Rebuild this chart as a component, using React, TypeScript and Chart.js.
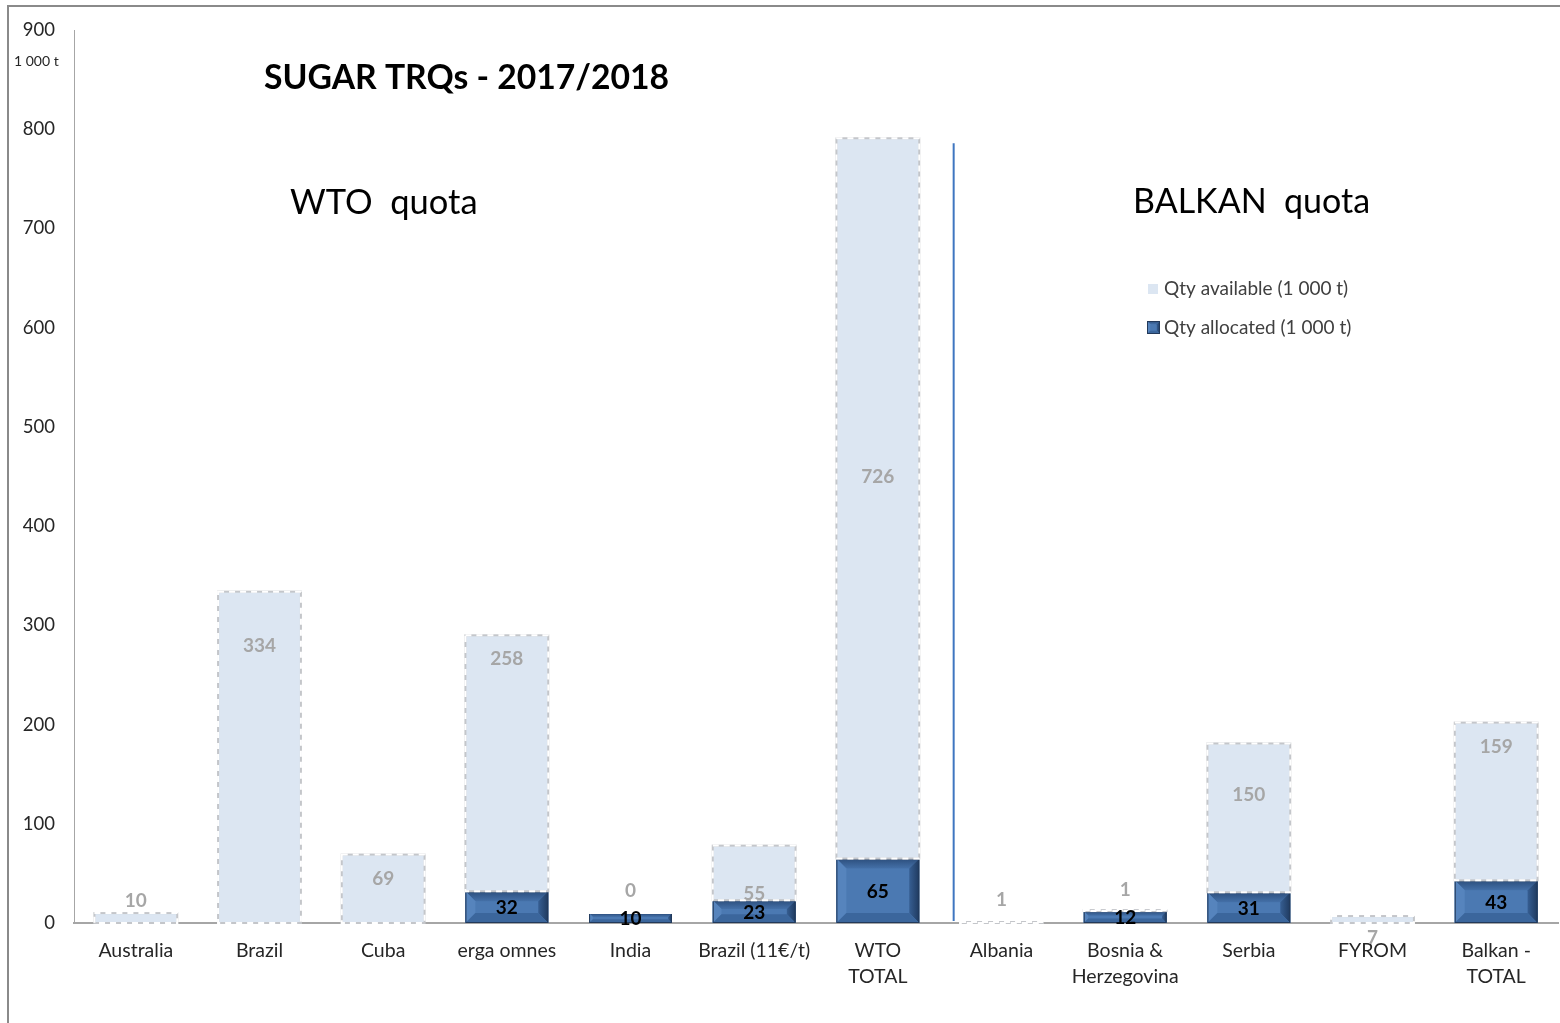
import { useEffect, useRef } from 'react';
import { Chart, registerables } from 'chart.js';

Chart.register(...registerables);

const categories: string[][] = [
  ['Australia'], ['Brazil'], ['Cuba'], ['erga omnes'], ['India'], ['Brazil (11€/t)'],
  ['WTO', 'TOTAL'], ['Albania'], ['Bosnia &', 'Herzegovina'], ['Serbia'], ['FYROM'], ['Balkan -', 'TOTAL'],
];
const allocated = [0, 0, 0, 32, 10, 23, 65, 0, 12, 31, 0, 43];
const available = [10, 334, 69, 258, 0, 55, 726, 1, 1, 150, 7, 159];
const seriesNames = ['Qty allocated (1 000 t)', 'Qty available (1 000 t)'];
const yMax = 900;
const yStep = 100;
// vertical pixel shift of each "available" value label from its segment centre
const availLabelDy = [-17, -111, -10, -104, -22, 21, -22, -23, -21, -23, 18, -55];

const FONT = 'Lato, "Open Sans", "DejaVu Sans", sans-serif';
const LIGHT = '#DCE6F2';
const DARK = '#4B79B2';

function drawBevel(ctx: CanvasRenderingContext2D, l: number, t: number, r: number, bt: number) {
  const h = bt - t;
  const w = r - l;
  if (h <= 0.5) return;
  const b = Math.max(1, Math.min(10, h / 2.6, w / 4));
  const poly = (pts: number[][], c: string | CanvasGradient) => {
    ctx.beginPath();
    ctx.moveTo(pts[0][0], pts[0][1]);
    for (let k = 1; k < pts.length; k++) ctx.lineTo(pts[k][0], pts[k][1]);
    ctx.closePath();
    ctx.fillStyle = c;
    ctx.fill();
  };
  poly([[l, t], [r, t], [r, bt], [l, bt]], DARK);
  const gTop = ctx.createLinearGradient(0, t, 0, t + b);
  gTop.addColorStop(0, '#2C4E7C');
  gTop.addColorStop(1, '#4470A8');
  poly([[l, t], [r, t], [r - b, t + b], [l + b, t + b]], gTop);
  poly([[l, t], [l + b, t + b], [l + b, bt - b], [l, bt]], '#5684BD');
  const gRight = ctx.createLinearGradient(r - b, 0, r, 0);
  gRight.addColorStop(0, '#365E92');
  gRight.addColorStop(1, '#1F3A5F');
  poly([[r, t], [r, bt], [r - b, bt - b], [r - b, t + b]], gRight);
  poly([[l, bt], [r, bt], [r - b, bt - b], [l + b, bt - b]], '#3B669C');
  ctx.strokeStyle = '#22395A';
  ctx.lineWidth = 1;
  ctx.strokeRect(l + 0.5, t + 0.5, w - 1, h - 1);
}

const decorPlugin = {
  id: 'decor',
  beforeDraw(chart: any) {
    const ctx = chart.ctx as CanvasRenderingContext2D;
    ctx.save();
    ctx.fillStyle = '#ffffff';
    ctx.fillRect(0, 0, chart.width, chart.height);
    ctx.fillStyle = '#8a8a8a';
    ctx.fillRect(8, 5, chart.width - 8, 2);
    ctx.fillRect(7, 5, 2, chart.height - 5);
    ctx.restore();
  },
  afterDatasetsDraw(chart: any) {
    const ctx = chart.ctx as CanvasRenderingContext2D;
    const metaA = chart.getDatasetMeta(0);
    const metaV = chart.getDatasetMeta(1);
    ctx.save();
    metaA.data.forEach((el: any, i: number) => {
      if (!allocated[i]) return;
      const p = el.getProps(['x', 'y', 'base', 'width'], true);
      drawBevel(ctx, p.x - p.width / 2, Math.min(p.y, p.base), p.x + p.width / 2, Math.max(p.y, p.base));
    });
    metaV.data.forEach((el: any) => {
      const p = el.getProps(['x', 'y', 'base', 'width'], true);
      const l = p.x - p.width / 2;
      const t = Math.min(p.y, p.base);
      const h = Math.abs(p.base - p.y);
      ctx.lineWidth = 2;
      ctx.setLineDash([]);
      ctx.strokeStyle = '#C4C6CA';
      ctx.strokeRect(l, t, p.width, h);
      ctx.setLineDash([6, 5]);
      ctx.strokeStyle = '#ffffff';
      ctx.strokeRect(l, t, p.width, h);
    });
    ctx.setLineDash([]);

    // value labels
    ctx.font = `bold 19px ${FONT}`;
    ctx.textAlign = 'center';
    ctx.textBaseline = 'middle';
    metaV.data.forEach((el: any, i: number) => {
      const p = el.getProps(['x', 'y', 'base'], true);
      ctx.fillStyle = '#A6A6A6';
      ctx.fillText(String(available[i]), p.x, (p.y + p.base) / 2 + availLabelDy[i]);
    });
    metaA.data.forEach((el: any, i: number) => {
      if (!allocated[i]) return;
      const p = el.getProps(['x', 'y', 'base'], true);
      ctx.fillStyle = '#000000';
      ctx.fillText(String(allocated[i]), p.x, (p.y + p.base) / 2 + 1);
    });

    // separator between WTO and BALKAN groups
    const xs = chart.scales.x;
    const ys = chart.scales.y;
    const sepX = (xs.getPixelForValue(6) + xs.getPixelForValue(7)) / 2 + 14;
    ctx.strokeStyle = '#3F76C0';
    ctx.lineWidth = 2;
    ctx.beginPath();
    ctx.moveTo(sepX, ys.getPixelForValue(786));
    ctx.lineTo(sepX, ys.getPixelForValue(2));
    ctx.stroke();
    ctx.restore();
  },
  afterDraw(chart: any) {
    const ctx = chart.ctx as CanvasRenderingContext2D;
    ctx.save();
    ctx.textBaseline = 'middle';
    ctx.textAlign = 'left';
    ctx.fillStyle = '#262626';
    ctx.font = `14px ${FONT}`;
    ctx.fillText('1 000 t', 14, 61);

    ctx.fillStyle = '#000000';
    ctx.font = `bold 33.7px ${FONT}`;
    ctx.fillText('SUGAR TRQs - 2017/2018', 264, 78);

    ctx.font = `34.5px ${FONT}`;
    ctx.fillText('WTO  quota', 290, 203);
    ctx.font = `34px ${FONT}`;
    ctx.fillText('BALKAN  quota', 1133, 202);

    // legend
    ctx.fillStyle = LIGHT;
    ctx.fillRect(1148, 284, 10, 10);
    drawBevel(ctx, 1147, 321, 1160, 334);
    ctx.fillStyle = '#404040';
    ctx.font = `19px ${FONT}`;
    ctx.fillText(seriesNames[1], 1164, 289);
    ctx.fillText(seriesNames[0], 1164, 328);
    ctx.restore();
  },
};

export default function App() {
  const ref = useRef<HTMLCanvasElement | null>(null);
  useEffect(() => {
    if (!ref.current) return;
    const chart = new Chart(ref.current, {
      type: 'bar',
      data: {
        labels: categories as any,
        datasets: [
          {
            label: seriesNames[0],
            data: allocated,
            backgroundColor: DARK,
            borderWidth: 0,
            stack: 's',
            barPercentage: 0.67,
            categoryPercentage: 1,
          },
          {
            label: seriesNames[1],
            data: available,
            backgroundColor: LIGHT,
            borderWidth: 0,
            stack: 's',
            barPercentage: 0.67,
            categoryPercentage: 1,
          },
        ],
      },
      options: {
        responsive: false,
        animation: false,
        layout: { padding: { top: 30, right: 2, left: 0, bottom: 0 } },
        plugins: { legend: { display: false }, tooltip: { enabled: false }, title: { display: false } },
        scales: {
          x: {
            stacked: true,
            grid: { display: false, drawTicks: false },
            border: { display: true, color: '#A6A6A6', width: 2 },
            ticks: {
              color: '#262626',
              font: { family: FONT, size: 19.5, lineHeight: 1.33 },
              padding: 15,
              maxRotation: 0,
              autoSkip: false,
            },
            afterFit(scale: any) {
              scale.height = 100;
            },
          },
          y: {
            stacked: true,
            min: 0,
            max: yMax,
            grid: { display: false, drawTicks: false },
            border: { display: true, color: '#A6A6A6', width: 1 },
            ticks: {
              stepSize: yStep,
              color: '#262626',
              font: { family: FONT, size: 18.5 },
              padding: 19,
            },
            afterFit(scale: any) {
              scale.width = 74;
            },
          },
        },
      },
      plugins: [decorPlugin],
    });
    return () => chart.destroy();
  }, []);
  return (
    <div style={{ position: 'absolute', left: 0, top: 0, width: 1560, height: 1023, background: '#fff' }}>
      <canvas ref={ref} width={1560} height={1023} style={{ display: 'block' }} />
    </div>
  );
}
